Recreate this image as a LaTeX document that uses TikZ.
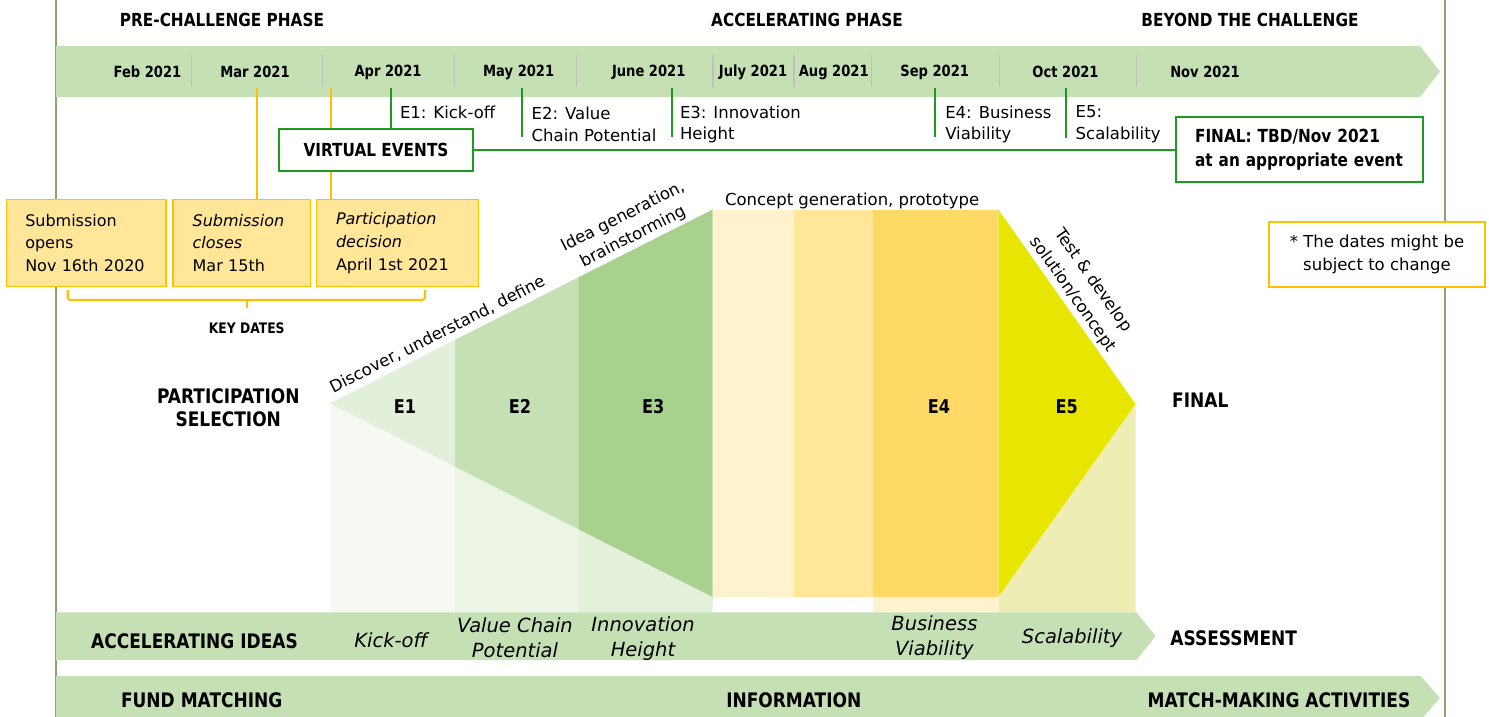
\documentclass[tikz,border=0pt]{standalone}
\usepackage{fontspec}
\setmainfont{DejaVu Sans}[BoldFeatures={FakeStretch=0.85}]
\newcommand\fsz[2]{\fontsize{#1}{#2}\selectfont}
\definecolor{bandG}{HTML}{C5E0B4}
\definecolor{gEa}{HTML}{E2EFDA}
\definecolor{gEb}{HTML}{C5E0B4}
\definecolor{gEc}{HTML}{A9D18E}
\definecolor{sEa}{HTML}{F5F9F2}
\definecolor{sEb}{HTML}{ECF4E6}
\definecolor{sEc}{HTML}{E3F0DA}
\definecolor{ya}{HTML}{FFF2CC}
\definecolor{yb}{HTML}{FFE699}
\definecolor{yc}{HTML}{FFD966}
\definecolor{yEe}{HTML}{E8E600}
\definecolor{sEe}{HTML}{EEEEB4}
\definecolor{yline}{HTML}{FFC000}
\definecolor{gline}{HTML}{1E9A1E}
\definecolor{framec}{HTML}{86A86A}
\definecolor{sepgray}{HTML}{BFBFBF}
\begin{document}
\begin{tikzpicture}[x=1pt,y=-1pt,
  every node/.style={inner sep=0pt, outer sep=0pt},
  phase/.style={font=\fsz{18}{22}\bfseries},
  month/.style={font=\fsz{15.4}{18}\bfseries},
  sepl/.style={draw=sepgray, line width=1.2pt},
  gtick/.style={draw=gline, line width=2.2pt},
  ytick/.style={draw=yline, line width=2.2pt},
  evlbl/.style={font=\fsz{16.5}{21.7}, align=left, anchor=west},
  gbox/.style={draw=gline, line width=2.2pt, fill=white},
  ybox/.style={draw=yline, line width=1.5pt, fill=yb, font=\fsz{16}{22.7}, align=left, minimum height=87.4},
  big/.style={font=\fsz{20}{23.5}\bfseries, align=center},
  eb/.style={font=\fsz{19}{22}\bfseries},
  slopelbl/.style={font=\fsz{16.5}{22.4}, align=center},
  bandit/.style={font=\fsz{19.5}{25}\itshape, align=center},
  band/.style={fill=bandG},
]
\useasboundingbox (0,0) rectangle (1489,717);
\clip (0,0) rectangle (1489,717);

% frame lines
\draw[framec, line width=1.3pt] (56,0) -- (56,717);
\draw[framec, line width=1.3pt] (1445,0) -- (1445,717);

% phase titles
\node[phase] (ph1) at (222,20.4) {PRE-CHALLENGE PHASE};
\node[phase] (ph2) at (807,20.4) {ACCELERATING PHASE};
\node[phase] (ph3) at (1250,20.4) {BEYOND THE CHALLENGE};

% timeline band
\fill[band] (56,46) -- (1420,46) -- (1440,71.5) -- (1420,97) -- (56,97) -- cycle;
\foreach \x in {191.7,322.7,454.3,576.7,713,794,871.7,999.3,1136.7}
  \draw[sepl] (\x,55) -- (\x,87);
\node[month] (m1) at (147.5,72) {Feb 2021};
\node[month] (m2) at (255,72) {Mar 2021};
\node[month] (m3) at (388,72) {Apr 2021};
\node[month] (m4) at (518.7,72) {May 2021};
\node[month] (m5) at (648.7,72) {June 2021};
\node[month] (m6) at (753,72) {July 2021};
\node[month] (m7) at (833.7,72) {Aug 2021};
\node[month] (m8) at (934.7,72) {Sep 2021};
\node[month] (m9) at (1065.5,72) {Oct 2021};
\node[month] (m10) at (1205,72) {Nov 2021};

% key date boxes
\node[ybox, inner xsep=18.6, text width=122.1] (kd1) at (86.3,243) {Submission\\opens\\Nov~16th~2020};
\node[ybox, inner xsep=19.7, text width=98.3] (kd2) at (241.8,243) {{\itshape Submission}\\{\itshape closes}\\Mar~15th};
\node[ybox, inner xsep=19.3, text width=123] (kd3) at (397.5,243) {{\itshape Participation}\\{\itshape decision}\\April~1st~2021};

\coordinate (ya) at (257.3,88);
\coordinate (yb) at (331,88);
\draw[ytick] (ya) -- (ya |- kd2.north);
\draw[ytick] (yb) -- (yb |- kd3.north);

% brace
\draw[ytick, rounded corners=3pt] (67.7,290) -- (67.7,300) -- (425,300) -- (425,290);
\draw[ytick] (246.7,300) -- (246.7,308);
\node[font=\fsz{14.5}{17}\bfseries] (kdl) at (246.7,328) {KEY DATES};

% virtual events
\node[gbox, minimum width=193.7, minimum height=42, font=\fsz{18}{22}\bfseries] (ve) at (376,150.3) {VIRTUAL EVENTS};
\node[gbox, inner xsep=19.3, text width=208.9, minimum height=64.7, align=left, font=\fsz{18}{23.7}\bfseries] (fin) at (1299.5,149.7) {FINAL:~TBD/Nov~2021\\at~an~appropriate~event};
\draw[gtick] (ve.east) -- (fin.west |- ve.east);

\coordinate (t1) at (390.7,88);
\coordinate (t2) at (521.7,88); \coordinate (t2e) at (521.7,137);
\coordinate (t3) at (671.7,88); \coordinate (t3e) at (671.7,137);
\coordinate (t4) at (935.3,88); \coordinate (t4e) at (935.3,137);
\coordinate (t5) at (1066.3,88); \coordinate (t5e) at (1066.3,138);
\draw[gtick] (t1) -- (t1 |- ve.north);
\draw[gtick] (t2) -- (t2e);
\draw[gtick] (t3) -- (t3e);
\draw[gtick] (t4) -- (t4e);
\draw[gtick] (t5) -- (t5e);

\node[evlbl] (e1l) at (400,112.5) {E1: Kick-off};
\node[evlbl] (e2l) at (531.7,124.5) {E2: Value\\Chain Potential};
\node[evlbl] (e3l) at (680,124.5) {E3: Innovation\\Height};
\node[evlbl] (e4l) at (945.3,124.5) {E4: Business\\Viability};
\node[evlbl] (e5l) at (1075.7,124.5) {E5:\\Scalability};

% note
\node[draw=yline, line width=1.5pt, fill=white, minimum width=216, minimum height=64.7, align=center, font=\fsz{16.5}{22.7}] (note) at (1377,254.4) {* The dates might be\\subject to change};

% funnel
\coordinate (A) at (330,403.3);
\coordinate (T1) at (455,339.9); \coordinate (B1) at (455,466.7);
\coordinate (T2) at (578.3,277.4); \coordinate (B2) at (578.3,529.2);
\coordinate (T3) at (712.7,209.5); \coordinate (B3) at (712.7,597);
\fill[sEa] (A) -- (B1) -- (455,612.3) -- (330,612.3) -- cycle;
\fill[sEb] (B1) -- (B2) -- (578.3,612.3) -- (455,612.3) -- cycle;
\fill[sEc] (B2) -- (B3) -- (712.7,612.3) -- (578.3,612.3) -- cycle;
\fill[gEa] (A) -- (T1) -- (B1) -- cycle;
\fill[gEb] (T1) -- (T2) -- (B2) -- (B1) -- cycle;
\fill[gEc] (T2) -- (T3) -- (B3) -- (B2) -- cycle;
\fill[ya] (712.7,209.5) rectangle (794,597);
\fill[yb] (794,209.5) rectangle (872.7,597);
\fill[yc] (872.7,209.5) rectangle (998.3,597);
\fill[ya] (872.7,597) rectangle (998.3,612.3);
\fill[sEe] (998.3,597) -- (1135.5,404) -- (1135.5,612.3) -- (998.3,612.3) -- cycle;
\fill[yEe] (998.3,209.5) -- (1135.5,404) -- (998.3,597) -- cycle;

\node[eb] (E1) at (405,406.7) {E1};
\node[eb] (E2) at (520,406.7) {E2};
\node[eb] (E3) at (653.3,406.7) {E3};
\node[eb] (E4) at (939,406.7) {E4};
\node[eb] (E5) at (1066.7,406.7) {E5};

\node[slopelbl, anchor=base west, rotate=26.9] (disc) at (333.3,393.3) {Discover, understand, define};
\node[slopelbl, anchor=south, rotate=26.9] (idea) at (636.7,244) {Idea generation,\\brainstorming};
\node[slopelbl, anchor=base west] (conc) at (725,205) {Concept generation, prototype};
\node[slopelbl, anchor=south, rotate=-54.9, font=\fsz{16.5}{24.5}] (test) at (1066.4,299.1) {Test \& develop\\solution/concept};

\node[big] (ps) at (228.3,407.7) {PARTICIPATION\\SELECTION};
\node[big] (fl) at (1200.3,400.7) {FINAL};

% accelerating ideas band
\fill[band] (56,612.3) -- (1136.5,612.3) -- (1155.6,636.2) -- (1136.5,660) -- (56,660) -- cycle;
\node[big] (ai) at (194.5,641.7) {ACCELERATING IDEAS};
\node[bandit] (b1) at (391,640) {Kick-off};
\node[bandit] (b2) at (515,638.2) {Value Chain\\Potential};
\node[bandit] (b3) at (643,638.2) {Innovation\\Height};
\node[bandit] (b4) at (934.4,637.5) {Business\\Viability};
\node[bandit] (b5) at (1072,638.3) {Scalability};
\node[big] (as) at (1233.7,638.3) {ASSESSMENT};

% fund matching band
\fill[band] (56,676) -- (1420.7,676) -- (1439.8,698) -- (1420.7,720) -- (56,720) -- cycle;
\node[big] (fm) at (201.7,700.7) {FUND MATCHING};
\node[big] (inf) at (793.8,700.7) {INFORMATION};
\node[big] (mm) at (1279,700.7) {MATCH-MAKING ACTIVITIES};
\end{tikzpicture}
\end{document}
